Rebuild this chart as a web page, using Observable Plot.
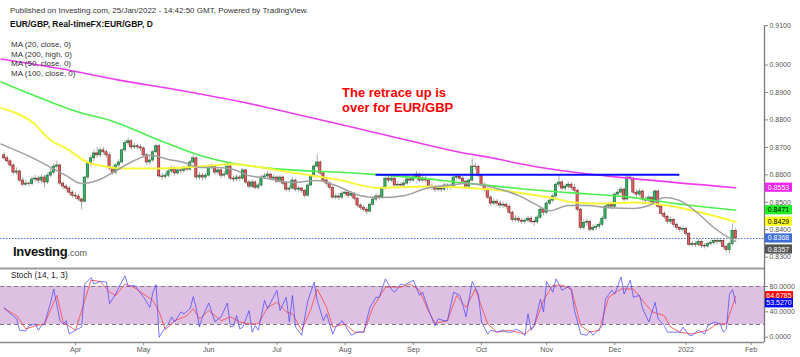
<!DOCTYPE html>
<html><head><meta charset="utf-8">
<script src="https://cdn.jsdelivr.net/npm/d3@7"></script>
<script src="https://cdn.jsdelivr.net/npm/@observablehq/plot@0.6"></script>
<style>
body{margin:0;background:#fff;}
#wrap{position:relative;width:800px;height:357px;overflow:hidden;font-family:Arial,"Liberation Sans",sans-serif;background:#fff;}
#wrap svg{position:absolute;left:0;}
.t{position:absolute;white-space:nowrap;line-height:1;color:#222;}
</style></head><body><div id="wrap"></div>
<script>
// ---------- DATA ----------
const startDate = "2021-03-01";   // first daily bar (weekdays)
const firstOpen = 0.8671;
const closes = [
0.8660,0.8649,0.8634,0.8608,0.8612,0.8579,0.8564,0.8568,0.8566,0.8583,
0.8586,0.8579,0.8590,0.8572,0.8597,0.8608,0.8630,0.8634,0.8568,0.8557,
0.8550,0.8535,0.8524,0.8521,0.8510,0.8502,0.8590,0.8641,0.8660,0.8678,
0.8671,0.8689,0.8682,0.8671,0.8623,0.8608,0.8634,0.8645,0.8689,0.8715,
0.8722,0.8700,0.8704,0.8700,0.8696,0.8671,0.8645,0.8652,0.8682,0.8704,
0.8594,0.8592,0.8597,0.8612,0.8623,0.8605,0.8616,0.8614,0.8623,0.8619,
0.8645,0.8660,0.8590,0.8597,0.8590,0.8597,0.8627,0.8630,0.8608,0.8616,
0.8597,0.8601,0.8630,0.8586,0.8583,0.8590,0.8586,0.8616,0.8572,0.8557,
0.8572,0.8553,0.8561,0.8590,0.8594,0.8601,0.8586,0.8590,0.8575,0.8590,
0.8568,0.8546,0.8550,0.8579,0.8546,0.8550,0.8542,0.8524,0.8561,0.8594,
0.8630,0.8645,0.8605,0.8579,0.8568,0.8553,0.8517,0.8521,0.8517,0.8531,
0.8535,0.8524,0.8531,0.8513,0.8488,0.8480,0.8473,0.8466,0.8491,0.8510,
0.8521,0.8517,0.8550,0.8586,0.8579,0.8586,0.8561,0.8564,0.8561,0.8568,
0.8583,0.8579,0.8590,0.8601,0.8579,0.8586,0.8579,0.8557,0.8553,0.8546,
0.8550,0.8546,0.8561,0.8553,0.8557,0.8590,0.8592,0.8586,0.8575,0.8557,
0.8579,0.8630,0.8628,0.8597,0.8564,0.8546,0.8517,0.8495,0.8502,0.8495,
0.8488,0.8491,0.8484,0.8462,0.8436,0.8440,0.8433,0.8429,0.8433,0.8440,
0.8429,0.8427,0.8444,0.8473,0.8462,0.8495,0.8506,0.8521,0.8564,0.8572,
0.8550,0.8557,0.8564,0.8553,0.8542,0.8473,0.8407,0.8425,0.8429,0.8400,
0.8407,0.8411,0.8418,0.8440,0.8484,0.8491,0.8484,0.8528,0.8535,0.8546,
0.8510,0.8590,0.8586,0.8535,0.8528,0.8539,0.8510,0.8506,0.8517,0.8499,
0.8539,0.8484,0.8458,0.8447,0.8429,0.8436,0.8418,0.8407,0.8400,0.8403,
0.8385,0.8345,0.8348,0.8345,0.8356,0.8341,0.8339,0.8348,0.8352,0.8359,
0.8356,0.8359,0.8337,0.8326,0.8348,0.8396,0.8368];
const highs = [
0.8680,0.8668,0.8655,0.8640,0.8625,0.8618,0.8590,0.8580,0.8577,0.8592,
0.8598,0.8595,0.8600,0.8598,0.8605,0.8625,0.8640,0.8650,0.8640,0.8575,
0.8565,0.8558,0.8542,0.8535,0.8528,0.8515,0.8595,0.8650,0.8670,0.8690,
0.8700,0.8698,0.8700,0.8690,0.8680,0.8630,0.8642,0.8655,0.8695,0.8725,
0.8735,0.8728,0.8715,0.8712,0.8710,0.8702,0.8678,0.8665,0.8690,0.8712,
0.8710,0.8605,0.8606,0.8622,0.8632,0.8630,0.8625,0.8624,0.8630,0.8632,
0.8652,0.8670,0.8665,0.8608,0.8604,0.8605,0.8635,0.8640,0.8636,0.8626,
0.8622,0.8612,0.8645,0.8636,0.8595,0.8600,0.8597,0.8624,0.8620,0.8580,
0.8580,0.8578,0.8570,0.8598,0.8605,0.8612,0.8606,0.8600,0.8596,0.8598,
0.8595,0.8574,0.8560,0.8588,0.8584,0.8558,0.8555,0.8548,0.8568,0.8600,
0.8638,0.8672,0.8650,0.8612,0.8586,0.8575,0.8558,0.8530,0.8530,0.8540,
0.8545,0.8542,0.8540,0.8536,0.8518,0.8495,0.8488,0.8482,0.8498,0.8518,
0.8530,0.8528,0.8556,0.8592,0.8598,0.8595,0.8592,0.8575,0.8572,0.8578,
0.8592,0.8592,0.8598,0.8612,0.8606,0.8600,0.8594,0.8585,0.8566,0.8560,
0.8560,0.8558,0.8570,0.8568,0.8566,0.8598,0.8602,0.8600,0.8594,0.8580,
0.8585,0.8660,0.8642,0.8635,0.8602,0.8570,0.8552,0.8524,0.8512,0.8510,
0.8504,0.8500,0.8498,0.8490,0.8468,0.8452,0.8448,0.8442,0.8442,0.8450,
0.8448,0.8438,0.8452,0.8480,0.8478,0.8502,0.8515,0.8530,0.8570,0.8596,
0.8580,0.8566,0.8574,0.8572,0.8565,0.8548,0.8478,0.8435,0.8438,0.8436,
0.8418,0.8420,0.8428,0.8448,0.8490,0.8500,0.8498,0.8535,0.8545,0.8556,
0.8552,0.8602,0.8598,0.8592,0.8545,0.8548,0.8545,0.8520,0.8526,0.8522,
0.8545,0.8545,0.8490,0.8466,0.8452,0.8446,0.8440,0.8425,0.8412,0.8412,
0.8410,0.8390,0.8358,0.8356,0.8364,0.8362,0.8350,0.8356,0.8362,0.8368,
0.8366,0.8370,0.8364,0.8342,0.8355,0.8422,0.8405];
const lows = [
0.8652,0.8640,0.8626,0.8600,0.8598,0.8572,0.8556,0.8558,0.8555,0.8560,
0.8574,0.8568,0.8570,0.8552,0.8565,0.8590,0.8600,0.8620,0.8560,0.8545,
0.8538,0.8525,0.8515,0.8510,0.8502,0.8472,0.8498,0.8582,0.8630,0.8648,
0.8660,0.8662,0.8672,0.8660,0.8615,0.8598,0.8600,0.8625,0.8640,0.8680,
0.8705,0.8690,0.8692,0.8690,0.8685,0.8662,0.8635,0.8636,0.8645,0.8675,
0.8588,0.8580,0.8584,0.8590,0.8604,0.8596,0.8598,0.8604,0.8606,0.8610,
0.8612,0.8638,0.8582,0.8580,0.8578,0.8582,0.8592,0.8618,0.8598,0.8600,
0.8585,0.8588,0.8595,0.8578,0.8572,0.8575,0.8576,0.8580,0.8565,0.8548,
0.8550,0.8545,0.8545,0.8556,0.8582,0.8588,0.8578,0.8578,0.8568,0.8570,
0.8560,0.8538,0.8536,0.8545,0.8538,0.8537,0.8532,0.8515,0.8520,0.8556,
0.8588,0.8625,0.8598,0.8570,0.8560,0.8545,0.8510,0.8508,0.8506,0.8510,
0.8522,0.8515,0.8516,0.8505,0.8480,0.8470,0.8465,0.8455,0.8460,0.8485,
0.8502,0.8508,0.8512,0.8545,0.8570,0.8572,0.8555,0.8552,0.8552,0.8555,
0.8562,0.8570,0.8572,0.8585,0.8572,0.8574,0.8570,0.8550,0.8544,0.8535,
0.8538,0.8536,0.8540,0.8544,0.8545,0.8552,0.8580,0.8578,0.8566,0.8548,
0.8550,0.8574,0.8618,0.8590,0.8556,0.8538,0.8510,0.8486,0.8488,0.8484,
0.8478,0.8478,0.8474,0.8455,0.8428,0.8428,0.8424,0.8420,0.8420,0.8424,
0.8420,0.8412,0.8420,0.8438,0.8452,0.8455,0.8488,0.8498,0.8515,0.8555,
0.8542,0.8542,0.8548,0.8544,0.8535,0.8466,0.8398,0.8398,0.8412,0.8392,
0.8392,0.8396,0.8402,0.8410,0.8435,0.8476,0.8472,0.8478,0.8520,0.8525,
0.8502,0.8505,0.8576,0.8528,0.8518,0.8520,0.8502,0.8496,0.8498,0.8490,
0.8492,0.8476,0.8450,0.8438,0.8420,0.8420,0.8410,0.8398,0.8390,0.8390,
0.8376,0.8338,0.8336,0.8335,0.8338,0.8332,0.8330,0.8332,0.8340,0.8344,
0.8346,0.8348,0.8330,0.8318,0.8312,0.8342,0.8362];

// moving averages: [bar index, value]
const ma20 = [[-1,0.8712],[0,0.8707],[9.5,0.8660],[15,0.8627],[20,0.8597],[25,0.8568],[30,0.8579],[35,0.8608],[42,0.8652],[47,0.8671],[53,0.8656],[58,0.8645],[63,0.8627],[69,0.8627],[74,0.8619],[79,0.8597],[83,0.8590],[93,0.8572],[101,0.8579],[107,0.8561],[115,0.8524],[121,0.8517],[129,0.8524],[136,0.8550],[143,0.8561],[149,0.8568],[158,0.8553],[166,0.8524],[171,0.8495],[176,0.8469],[182,0.8488],[188,0.8488],[195,0.8480],[203,0.8477],[208,0.8488],[213,0.8517],[218,0.8506],[224,0.8458],[229,0.8407],[236,0.8357]];
const ma50 = [[-1,0.8843],[9.5,0.8788],[15,0.8726],[20,0.8696],[27,0.8645],[31,0.8634],[37.5,0.8623],[47,0.8623],[63,0.8630],[74,0.8638],[83,0.8627],[93,0.8608],[109,0.8579],[120,0.8553],[136,0.8557],[153,0.8550],[166,0.8535],[176,0.8517],[184,0.8499],[192,0.8495],[203,0.8499],[214,0.8488],[225,0.8462],[236,0.8429]];
const ma100 = [[-1,0.8938],[15,0.8865],[25,0.8825],[34,0.8799],[50,0.8726],[63,0.8671],[74,0.8641],[83,0.8627],[115,0.8605],[136,0.8586],[147,0.8572],[160,0.8557],[166,0.8550],[182,0.8535],[203,0.8517],[214,0.8499],[236,0.8471]];
const ma200 = [[-1,0.9022],[18,0.8987],[37,0.8945],[57,0.8907],[83,0.8850],[96,0.8816],[126,0.8737],[147,0.8682],[160,0.8656],[166,0.8641],[187,0.8605],[203,0.8586],[236,0.8553]];

// stochastic (14,1,3): [bar index, value]
const stochK = [[0,47],[2,37],[4,29],[5,11],[7,10],[8,18],[10,21],[11,11],[12,18],[13,21],[15,55],[16,76],[18,26],[19,21],[20,26],[21,5],[23,11],[25,16],[26,84],[28,94],[29,84],[31,88],[33,87],[34,53],[36,68],[37,79],[39,97],[40,80],[42,82],[43,76],[45,63],[47,47],[48,71],[49,83],[50,0],[51,8],[53,21],[54,32],[55,24],[57,40],[58,37],[60,45],[61,64],[62,45],[63,16],[64,32],[66,54],[68,24],[69,29],[70,32],[72,54],[73,16],[74,18],[75,34],[76,13],[77,16],[79,42],[80,8],[81,18],[82,11],[84,58],[85,45],[86,55],[88,74],[89,42],[91,63],[92,24],[93,66],[94,16],[96,3],[97,32],[98,58],[100,87],[101,58],[103,26],[104,37],[106,5],[107,16],[109,26],[111,11],[112,3],[114,8],[116,8],[118,47],[120,63],[121,63],[123,92],[125,75],[126,71],[128,84],[129,82],[132,90],[134,66],[135,71],[137,42],[139,18],[140,29],[142,26],[143,26],[145,71],[147,66],[148,50],[149,32],[151,88],[153,68],[154,24],[156,5],[157,11],[159,8],[161,11],[162,8],[164,8],[165,13],[167,8],[168,3],[169,37],[170,11],[171,18],[173,60],[174,40],[175,88],[177,71],[178,92],[180,74],[182,80],[183,74],[184,42],[186,5],[188,3],[189,10],[190,3],[191,8],[193,18],[194,60],[196,74],[197,68],[199,95],[200,68],[202,90],[203,63],[205,66],[206,45],[208,24],[210,55],[211,29],[213,18],[214,8],[216,8],[218,8],[219,16],[221,3],[222,3],[224,11],[226,5],[227,18],[229,24],[231,21],[232,8],[233,13],[234,68],[235,75],[236,53.527]];
const stochD = [[0,45],[4,34],[7,13],[10,18],[13,21],[17,66],[19,24],[23,11],[26,58],[28,90],[31,88],[34,71],[36,66],[39,84],[42,78],[45,68],[48,58],[50,40],[52,12],[55,26],[59,34],[61,45],[63,29],[66,42],[70,26],[73,32],[76,24],[79,21],[82,21],[85,47],[88,55],[91,40],[93,37],[96,11],[99,45],[101,76],[104,47],[106,16],[110,21],[113,8],[116,8],[119,47],[123,79],[128,79],[131,84],[134,74],[137,40],[139,22],[143,26],[146,66],[149,47],[152,76],[156,21],[159,8],[163,11],[168,5],[171,18],[174,58],[177,82],[180,82],[183,76],[186,18],[189,8],[192,11],[195,63],[199,76],[203,76],[206,58],[209,40],[213,34],[215,16],[218,8],[222,5],[227,11],[230,21],[233,21],[236,64.6785]];

const priceTicks = [0.83,0.84,0.85,0.86,0.87,0.88,0.89,0.90,0.91];
const stochTicks = [0,40,80];
const stochBand = [20,80];
const resistance = {level: 0.8600, fromBar: 120, toBar: 218};
const lastPrice = 0.8368;
const priceTags = [
  {value:0.8553, bg:"#f224f2", fg:"#ffffff", shift:0},
  {value:0.8471, bg:"#22f022", fg:"#000000", shift:0},
  {value:0.8429, bg:"#ffff1a", fg:"#000000", shift:0},
  {value:0.8368, bg:"#3d6fd6", fg:"#ffffff", shift:0},
  {value:0.8357, bg:"#555555", fg:"#ffffff", shift:8}
];
const stochTags = [
  {value:64.6785, bg:"#ff0000", fg:"#ffffff"},
  {value:53.5270, bg:"#0000ff", fg:"#ffffff"}
];
const headerLines = ["Published on Investing.com, 25/Jan/2022 - 14:42:50 GMT, Powered by TradingView.", "EUR/GBP, Real-timeFX:EUR/GBP, D"];
const legendLines = ["MA (20, close, 0)", "MA (200, high, 0)", "MA (50, close, 0)", "MA (100, close, 0)"];
const noteLines = ["The retrace up is", "over for EUR/GBP"];

// ---------- BUILD ----------
const FONT = "Arial, 'Liberation Sans', sans-serif";
const nBars = closes.length;
function weekdays(start, n){const out=[];const d=new Date(start+"T00:00:00Z");while(out.length<n){const w=d.getUTCDay();if(w!==0&&w!==6)out.push(new Date(d));d.setUTCDate(d.getUTCDate()+1);}return out;}
const barDates = weekdays(startDate, nBars + 12);
const monthTicks = [], monthLabel = new Map();
for (let i=1;i<barDates.length;i++){
  if (barDates[i].getUTCMonth()!==barDates[i-1].getUTCMonth()){
    monthTicks.push(i);
    const d=barDates[i];
    monthLabel.set(i, d.getUTCMonth()===0 ? String(d.getUTCFullYear()) : d3.utcFormat("%b")(d));
  }
}
const candles = closes.map((c,i)=>({i, open: i===0?firstOpen:closes[i-1], close:c, high:highs[i], low:lows[i]}));
const xDom = [-1.19, 245.3];
const pts = a => a.map(([i,v])=>({i,v}));

const pricePlot = Plot.plot({
  width:800, height:267, marginLeft:0, marginRight:36, marginTop:0, marginBottom:0,
  x:{domain:xDom, axis:null, label:null},
  y:{domain:[0.82623,0.92350], axis:null, label:null},
  color:{type:"identity"},
  style:{background:"transparent", color:"#555", fontFamily:FONT, overflow:"visible"},
  marks:[
    Plot.ruleY([lastPrice], {stroke:"#4a6fd8", strokeDasharray:"1.5,1.5", strokeWidth:1}),
    Plot.ruleX(candles, {x:"i", y1:"low", y2:"high", stroke:"#a9a9a9", strokeWidth:1}),
    Plot.rect(candles, {x1:d=>d.i-0.36, x2:d=>d.i+0.36, y1:"open", y2:"close",
      fill:d=>d.close>=d.open?"#2fb85d":"#ef5e5e", stroke:d=>d.close>=d.open?"#1c5a31":"#6b2020", strokeWidth:0.6}),
    Plot.line(pts(ma200), {x:"i", y:"v", stroke:"#f03cf0", strokeWidth:1.6, curve:"monotone-x"}),
    Plot.line(pts(ma100), {x:"i", y:"v", stroke:"#4cf04c", strokeWidth:1.6, curve:"monotone-x"}),
    Plot.line(pts(ma50), {x:"i", y:"v", stroke:"#f8f83a", strokeWidth:2, curve:"monotone-x"}),
    Plot.line(pts(ma20), {x:"i", y:"v", stroke:"#a0a0a0", strokeWidth:1.5, curve:"monotone-x"}),
    Plot.ruleY([resistance.level], {x1:resistance.fromBar, x2:resistance.toBar, stroke:"#0a0aff", strokeWidth:2}),
    Plot.ruleX([xDom[1]], {stroke:"#7a7a7a", strokeWidth:1.3, insetTop:25}),
    Plot.axisY(priceTicks.filter(t=>t<0.905), {anchor:"right", label:null, tickFormat:d=>d.toFixed(4), tickSize:3, tickPadding:2, fontSize:7, stroke:"#888"}),
    Plot.axisY([0.91], {anchor:"right", label:null, tickFormat:d=>d.toFixed(4), tickSize:3, tickPadding:2, fontSize:7, dy:-12, stroke:"#888"})
  ]
});
pricePlot.style.top = "0px";

const stochPlot = Plot.plot({
  width:800, height:90, marginLeft:0, marginRight:36, marginTop:0, marginBottom:15,
  x:{domain:xDom, axis:null, label:null},
  y:{domain:[-8.36,109.97], axis:null, label:null},
  style:{background:"transparent", color:"#555", fontFamily:FONT, overflow:"visible"},
  marks:[
    Plot.rect([stochBand], {y1:d=>d[0], y2:d=>d[1], fill:"#dec0e2"}),
    Plot.ruleY(stochBand, {stroke:"#86748a", strokeDasharray:"4,3", strokeWidth:1}),
    Plot.line(pts(stochD), {x:"i", y:"v", stroke:"#ff4a4a", strokeWidth:1, strokeOpacity:0.85}),
    Plot.line(pts(stochK), {x:"i", y:"v", stroke:"#4a4aff", strokeWidth:1, strokeOpacity:0.75}),
    Plot.ruleY([109.97], {stroke:"#9a9a9a", strokeWidth:2, dy:1}),
    Plot.ruleY([-8.36], {stroke:"#8a8a8a", strokeWidth:1.5}),
    Plot.ruleX([xDom[1]], {stroke:"#7a7a7a", strokeWidth:1.3}),
    Plot.axisY(stochTicks, {anchor:"right", label:null, tickFormat:d=>d.toFixed(4), tickSize:3, tickPadding:2, fontSize:7, stroke:"#888"}),
    Plot.axisX(monthTicks, {anchor:"bottom", label:null, tickFormat:i=>monthLabel.get(i), tickSize:3, tickPadding:1.5, fontSize:7.2, stroke:"#888"})
  ]
});
stochPlot.style.top = "267px";

const wrap = document.getElementById("wrap");
wrap.appendChild(pricePlot);
wrap.appendChild(stochPlot);

// value tags on the right axis, positioned through the plots' scales
function addTags(plot, tags, width){
  const ys = plot.scale("y"), xs = plot.scale("x");
  const x0 = xs.apply(xDom[1]) + 1;
  const svg = d3.select(plot);
  tags.forEach(t=>{
    const y = ys.apply(t.value) + (t.shift||0);
    svg.append("rect").attr("x",x0).attr("y",y-4.6).attr("width",width).attr("height",9.2).attr("fill",t.bg);
    svg.append("text").attr("x",x0+width/2).attr("y",y+2.5).attr("text-anchor","middle")
      .attr("font-size",7).attr("font-family",FONT).attr("fill",t.fg).text(t.value.toFixed(4));
  });
}
addTags(pricePlot, priceTags, 27);
addTags(stochPlot, stochTags, 28);

// texts
function addText(str, left, baseline, size, opts={}){
  const d=document.createElement("div"); d.className="t"; d.textContent=str;
  d.style.left=left+"px"; d.style.top=(baseline-0.85*size)+"px"; d.style.fontSize=size+"px";
  if(opts.bold) d.style.fontWeight="bold";
  if(opts.color) d.style.color=opts.color;
  wrap.appendChild(d); return d;
}
addText(headerLines[0], 10, 14, 8, {color:"#333"});
addText(headerLines[1], 10, 27.3, 8.5, {bold:true, color:"#111"});
legendLines.forEach((s,j)=>addText(s, 11, 47.5+j*9.8, 8, {color:"#333"}));
noteLines.forEach((s,j)=>addText(s, 342, 97.3+j*15.2, 13, {bold:true, color:"#ff0000"}));
addText("Stoch (14, 1, 3)", 11, 278.5, 8.3, {color:"#222"});
const logo = addText("Investing", 13, 255.7, 13, {bold:true, color:"#111"});
logo.style.letterSpacing="-0.3px";
const com = document.createElement("span"); com.textContent=".com"; com.style.fontWeight="normal"; com.style.fontSize="9px"; com.style.color="#555"; com.style.letterSpacing="0"; logo.appendChild(com);
</script></body></html>
